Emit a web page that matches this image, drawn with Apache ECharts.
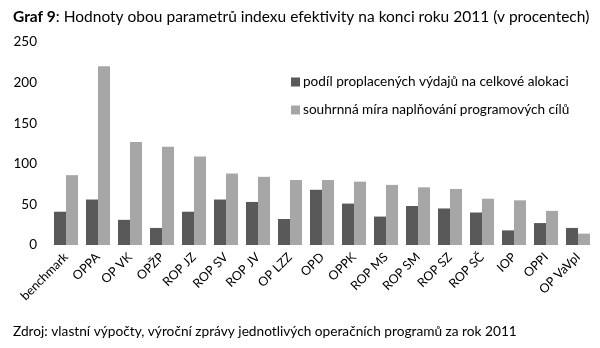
<!DOCTYPE html>
<html><head><meta charset="utf-8">
<script src="https://cdn.jsdelivr.net/npm/echarts@6/dist/echarts.min.js"></script>
<style>html,body{margin:0;padding:0;background:#fff}#c{width:600px;height:348px}</style>
</head><body><div id="c"></div>
<script>
const categories = ['benchmark','OPPA','OP VK','OPŽP','ROP JZ','ROP SV','ROP JV','OP LZZ','OPD','OPPK','ROP MS','ROP SM','ROP SZ','ROP SČ','IOP','OPPI','OP VaVpI'];
const podil = [41, 56, 31, 21, 41, 56, 53, 32, 68, 51, 35, 48, 45, 40, 18, 27, 21];
const mira = [86, 220, 127, 121, 109, 88, 84, 80, 80, 78, 74, 71, 69, 57, 55, 42, 14];
const seriesNames = ['podíl proplacených výdajů na celkové alokaci','souhrnná míra naplňování programových cílů'];
const yTicks = {min: 0, max: 250, interval: 50};
const FONT = 'Lato';
const chart = echarts.init(document.getElementById('c'));
chart.setOption({
  animation: false,
  textStyle: {fontFamily: FONT, color: '#000'},
  title: [{
    text: '{b|Graf 9}: Hodnoty obou parametrů indexu efektivity na konci roku 2011 (v procentech)',
    left: 8, top: 4,
    textStyle: {fontFamily: FONT, fontSize: 15.5, fontWeight: 'normal', color: '#000',
      rich: {b: {fontFamily: FONT, fontSize: 15.5, fontWeight: 'bold', color: '#000'}}}
  },{
    text: 'Zdroj: vlastní výpočty, výroční zprávy jednotlivých operačních programů za rok 2011',
    left: 8, top: 320,
    textStyle: {fontFamily: FONT, fontSize: 13.7, fontWeight: 'normal', color: '#000'}
  }],
  legend: {
    orient: 'vertical', left: 286, top: 70, itemWidth: 9, itemHeight: 9, itemGap: 14,
    icon: 'rect',
    textStyle: {fontFamily: FONT, fontSize: 13.6, color: '#000', padding: [0,0,0,-2]},
    data: seriesNames
  },
  grid: {left: 50, right: 6, top: 42, bottom: 103, containLabel: false},
  xAxis: {
    type: 'category', data: categories,
    axisLine: {show: false}, axisTick: {show: false},
    axisLabel: {rotate: 45, interval: 0, fontSize: 12.5, color: '#000', margin: 10, fontFamily: FONT}
  },
  yAxis: {
    type: 'value', min: yTicks.min, max: yTicks.max, interval: yTicks.interval,
    splitLine: {show: false}, axisLine: {show: false}, axisTick: {show: false},
    axisLabel: {fontSize: 13.5, color: '#000', margin: 13, fontFamily: FONT}
  },
  series: [
    {name: seriesNames[0], type: 'bar', data: podil, barWidth: 12, barGap: '0%', itemStyle: {color: '#595959'}},
    {name: seriesNames[1], type: 'bar', data: mira, barWidth: 12, barGap: '0%', itemStyle: {color: '#a6a6a6'}}
  ]
});
</script></body></html>
